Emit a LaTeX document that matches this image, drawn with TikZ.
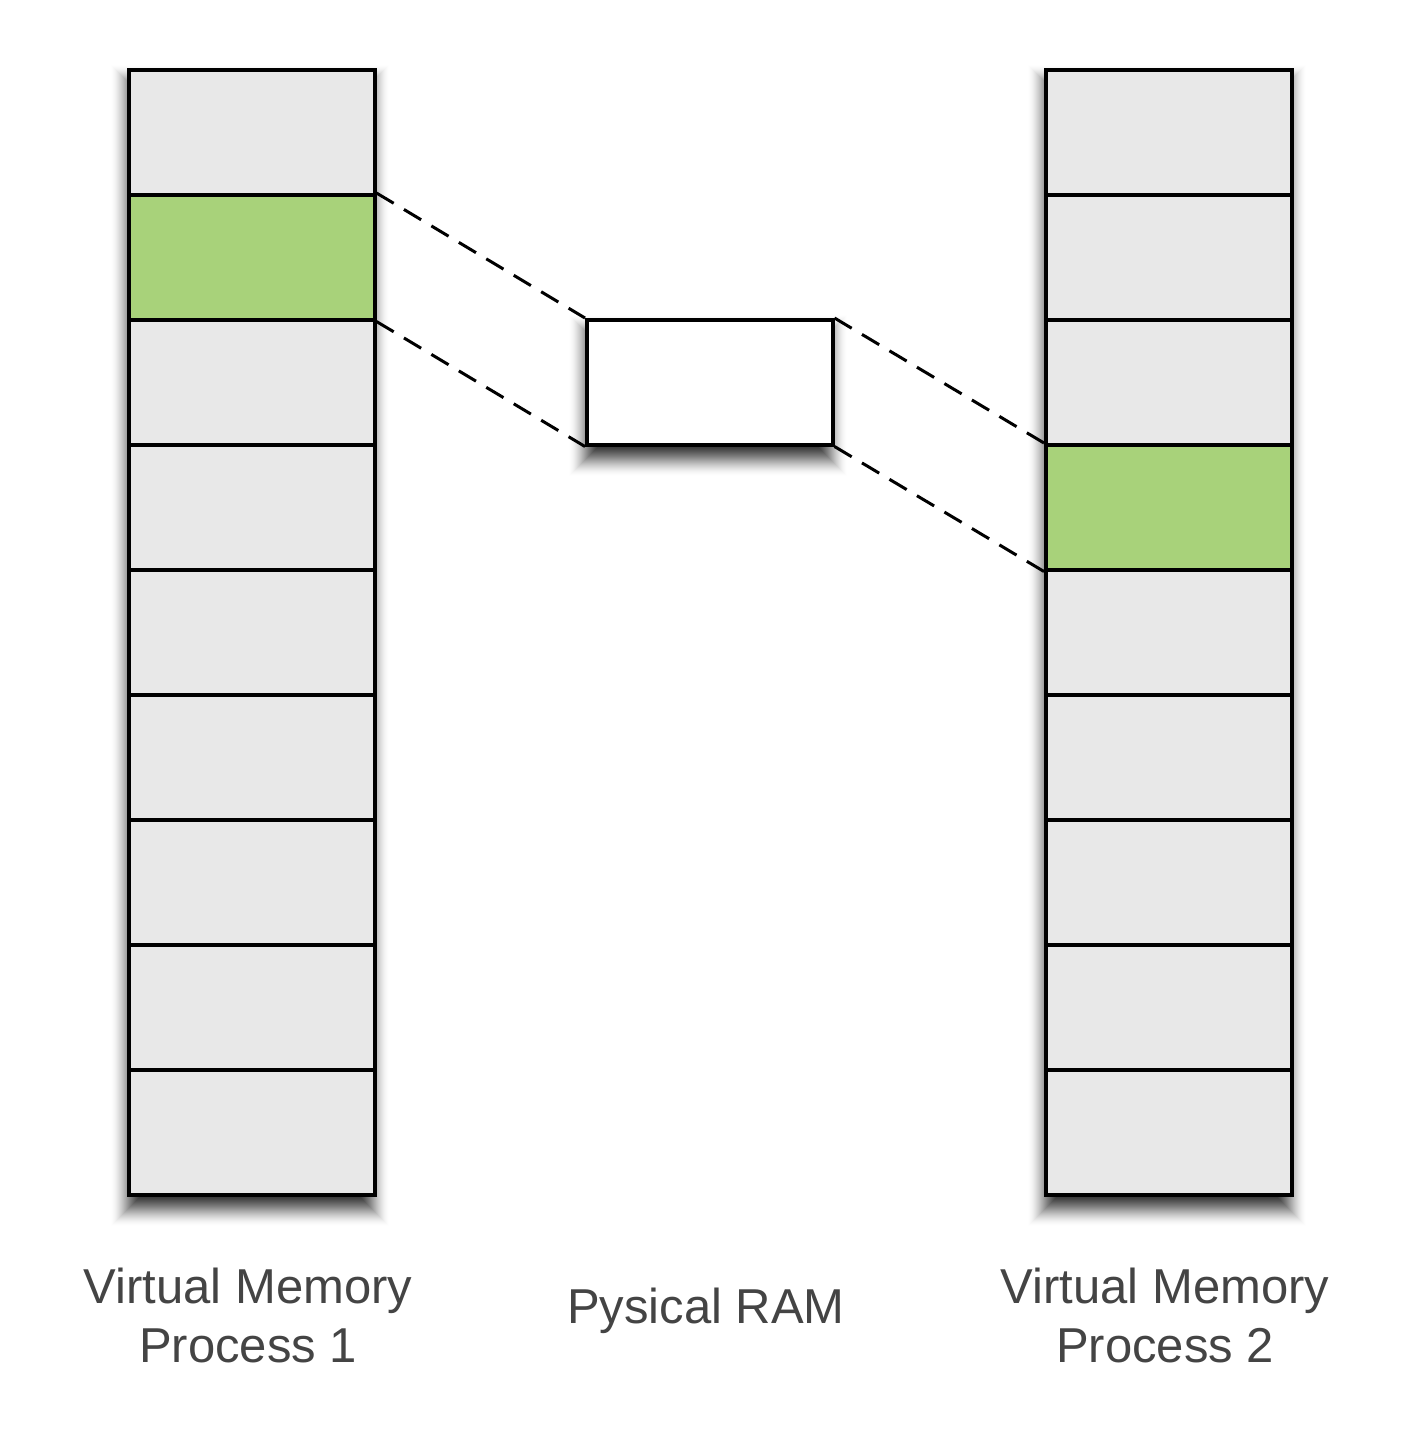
\documentclass[tikz,border=0pt]{standalone}
\usepackage{fontspec}
\setmainfont{Liberation Sans}
\definecolor{cellgray}{HTML}{E8E8E8}
\definecolor{cellgreen}{HTML}{A8D27A}
\definecolor{txt}{HTML}{444444}
\newcommand{\softshadow}[4]{% x0 y0 x1 y1 (box corners), shadow drawn below
  \foreach \k in {0,...,36} {
    \pgfmathsetmacro{\e}{18-\k}
    \pgfmathsetmacro{\op}{0.004+0.0032*\k}
    \fill[black,opacity=\op] ({#1-\e+2},{#2+15-\e}) rectangle ({#3+\e-2},{#4+15+\e});
  }
}
\begin{document}
\begin{tikzpicture}[x=1pt,y=-1pt,
  cell/.style={draw=black,line width=3.5pt,fill=cellgray,minimum width=246pt,minimum height=125pt,inner sep=0pt,anchor=north west},
  gcell/.style={cell,fill=cellgreen},
  link/.style={line width=3pt,dash pattern=on 20pt off 12pt},
  lbl/.style={font=\fontsize{49}{59}\selectfont,text=txt,align=center}]
\useasboundingbox (0,0) rectangle (1412,1433);
% shadows
\softshadow{127}{68}{373}{1193}
\softshadow{1044}{68}{1290}{1193}
\softshadow{585}{318}{831}{443}
% left column
\foreach \i in {0,...,8} {
  \pgfmathsetmacro{\ya}{68+125*\i}
  \ifnum\i=1
    \node[gcell] (L\i) at (127,\ya) {};
  \else
    \node[cell] (L\i) at (127,\ya) {};
  \fi
}
% right column
\foreach \i in {0,...,8} {
  \pgfmathsetmacro{\ya}{68+125*\i}
  \ifnum\i=3
    \node[gcell] (R\i) at (1044,\ya) {};
  \else
    \node[cell] (R\i) at (1044,\ya) {};
  \fi
}
\node[cell,fill=white] (ram) at (585,318) {};
\draw[link] (L1.north east) -- (ram.north west);
\draw[link] (L1.south east) -- (ram.south west);
\draw[link] (ram.north east) -- (R3.north west);
\draw[link] (ram.south east) -- (R3.south west);
\node[lbl,anchor=base] (t1) at (248,1362) {Virtual Memory\\Process 1};
\node[lbl,anchor=base] (t2) at (706,1323) {Pysical RAM};
\node[lbl,anchor=base] (t3) at (1165,1362) {Virtual Memory\\Process 2};
\end{tikzpicture}
\end{document}
